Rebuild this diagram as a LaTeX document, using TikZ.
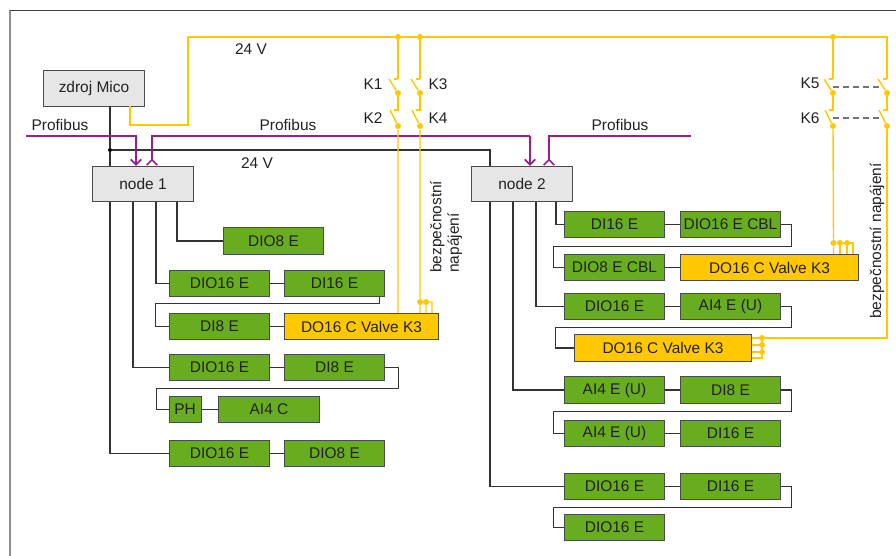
\documentclass[tikz,border=0pt]{standalone}
\usepackage{fontspec}
\setmainfont{Liberation Sans}
\usetikzlibrary{arrows.meta}
\definecolor{micoGreen}{HTML}{68AC20}
\definecolor{micoYellow}{HTML}{FFC800}
\definecolor{micoGrey}{HTML}{E6E6E6}
\definecolor{micoEdge}{HTML}{4A4A4A}
\definecolor{micoBus}{HTML}{9A1E8C}
\definecolor{micoText}{HTML}{222222}
\tikzset{
  gbox/.style={draw=micoEdge,fill=micoGreen,semithick,minimum width=75.5pt,
    minimum height=20pt,inner sep=0pt,text=micoText,font=\fontsize{11.6}{13}\selectfont},
  gsmall/.style={gbox,minimum width=24pt},
  valve/.style={gbox,fill=micoYellow},
  nodebox/.style={gbox,fill=micoGrey,minimum width=76pt,minimum height=26.5pt},
  cable/.style={draw=black!80,line width=.9pt},
  power/.style={draw=micoYellow,line width=1.05pt},
  bus/.style={draw=micoBus,line width=1.3pt},
  jdot/.style={circle,fill=micoYellow,inner sep=0pt,minimum size=4.5pt},
  bdot/.style={circle,fill=black,inner sep=0pt,minimum size=3pt},
  lbl/.style={text=micoText,font=\fontsize{11.6}{13}\selectfont,inner sep=0pt},
  coupling/.style={draw=black!55,line width=.9pt,dash pattern=on 4.5pt off 3pt}
}
\begin{document}
\begin{tikzpicture}[x=.75pt,y=-.75pt]
  \useasboundingbox (0,0) rectangle (896,556);
  \draw[black!45,line width=1.2pt] (10,556) coordinate (fa) -- (10,10) coordinate (fb);
  \draw[black!75,semithick] (fb) -- (896,10) coordinate (fc);

  % nodes of the left branch
  \node[nodebox] (mico) at (94,88.5) {zdroj Mico};
  \node[nodebox] (n1) at (143,184) {node 1};
  \node[gbox] (a1) at (273.5,241) {DIO8 E};
  \node[gbox] (b1) at (219.5,283.5) {DIO16 E};
  \node[gbox] (b2) at (334.5,283.5) {DI16 E};
  \node[gbox] (c1) at (219.5,326.5) {DI8 E};
  \node[valve,minimum width=116pt] (c2) at (361.5,326.5) {DO16 C Valve K3};
  \node[gbox] (d1) at (219.5,367.5) {DIO16 E};
  \node[gbox] (d2) at (334.5,367.5) {DI8 E};
  \node[gsmall] (e1) at (185,409.5) {PH};
  \node[gbox] (e2) at (269,409.5) {AI4 C};
  \node[gbox] (f1) at (219.5,453.5) {DIO16 E};
  \node[gbox] (f2) at (334.5,453.5) {DIO8 E};

  % nodes of the right branch
  \node[nodebox] (n2) at (522,184) {node 2};
  \node[gbox] (g1) at (614.5,224.5) {DI16 E};
  \node[gbox] (g2) at (730.5,224.5) {DIO16 E CBL};
  \node[gbox] (h1) at (614.5,267.5) {DIO8 E CBL};
  \node[valve,minimum width=134pt] (h2) at (769.5,267.5) {DO16 C Valve K3};
  \node[gbox] (i1) at (614.5,306.5) {DIO16 E};
  \node[gbox] (i2) at (730.5,306.5) {AI4 E (U)};
  \node[valve,minimum width=133pt] (j1) at (663,348) {DO16 C Valve K3};
  \node[gbox] (k1) at (614.5,390) {AI4 E (U)};
  \node[gbox] (k2) at (730.5,390) {DI8 E};
  \node[gbox] (l1) at (614.5,433.5) {AI4 E (U)};
  \node[gbox] (l2) at (730.5,433.5) {DI16 E};
  \node[gbox] (m1) at (614.5,486.5) {DIO16 E};
  \node[gbox] (m2) at (730.5,486.5) {DI16 E};
  \node[gbox] (o1) at (614.5,527.5) {DIO16 E};

  % 24 V supply of the nodes
  \node[bdot] (tap) at (110,150) {};
  \draw[cable] (110,106) coordinate (ms) -- (tap) -- (110,166) coordinate (ns);
  \draw[cable] (tap) -| ([xshift=-24pt]n2.north);

  % bus cables, left
  \draw[cable] ([xshift=-24.75pt]n1.south) |- (f1.west);
  \draw[cable] ([xshift=-7.5pt]n1.south) |- (d1.west);
  \draw[cable] ([xshift=9.75pt]n1.south) |- (b1.west);
  \draw[cable] ([xshift=25.5pt]n1.south) |- (a1.west);
  \draw[cable] (b1) -- (b2);
  \draw[cable] (d1) -- (d2);
  \draw[cable] (e1) -- (e2);
  \draw[cable] (c1) -- (c2);
  \draw[cable] (f1) -- (f2);
  \draw[cable] ([xshift=33.75pt]b2.south) -- ++(0,-4.5pt) -- ++(-168pt,0) |- (c1.west);
  \draw[cable] (d2.east) -- ++(9.75pt,0) |- ++(-181.5pt,-16pt) |- (e1.west);

  % bus cables, right
  \draw[cable] ([xshift=-24pt]n2.south) |- (m1.west);
  \draw[cable] ([xshift=-6.75pt]n2.south) |- (k1.west);
  \draw[cable] ([xshift=10.5pt]n2.south) |- (i1.west);
  \draw[cable] ([xshift=25.5pt]n2.south) |- (g1.west);
  \draw[cable] (g1) -- (g2);
  \draw[cable] (h1) -- (h2);
  \draw[cable] (i1) -- (i2);
  \draw[cable] (k1) -- (k2);
  \draw[cable] (l1) -- (l2);
  \draw[cable] (m1) -- (m2);
  \draw[cable] (g2.east) -- ++(7.5pt,0) |- ++(-178.5pt,-16.5pt) |- (h1.west);
  \draw[cable] (i2.east) -- ++(7.5pt,0) |- ++(-177pt,-15.75pt) |- (j1.west);
  \draw[cable] (k2.east) -- ++(7.5pt,0) |- ++(-178.5pt,-16pt) |- (l1.west);
  \draw[cable] (m2.east) -- ++(7.5pt,0) |- ++(-178.5pt,-15.75pt) |- (o1.west);

  % Profibus
  \coordinate (pa) at (26,136);
  \coordinate (pb) at (691,136);
  \coordinate (pc) at (549,136);
  \coordinate (pd) at (530,136);
  \coordinate (pe) at (152,136);
  \draw[bus,-{Straight Barb[length=4pt,width=8pt]}] (pa) -| ([xshift=-5.25pt]n1.north);
  \draw[bus,-{Straight Barb[reversed,length=4pt,width=8pt]}] (pd) -- (pe) -- ([xshift=6.75pt]n1.north);
  \draw[bus,-{Straight Barb[length=4pt,width=8pt]}] (pd) -- ([xshift=6pt]n2.north);
  \draw[bus,-{Straight Barb[reversed,length=4pt,width=8pt]}] (pb) -- (pc) -- ([xshift=20.25pt]n2.north);

  % 24 V from the source, contacts K1--K6
  \node[jdot] (t1) at (398,37) {};
  \node[jdot] (t2) at (420,37) {};
  \node[jdot] (t3) at (833,37) {};
  \foreach \nm/\xx in {u/398,v/420,w/833,z/887}{
    \node[jdot] (\nm1) at (\xx,93) {};
    \node[jdot] (\nm2) at (\xx,126) {};
    \draw[power] (\nm1) -- (\xx,110) -- (\xx-4,110);
    \draw[power] (\xx-9,79) -- (\nm1);
    \draw[power] (\xx-8,110) -- (\nm2);
    \draw[power] (\xx,79) -- (\xx-4,79);
  }
  \draw[power] (130,106) coordinate (mo) -- (130,125) -- (188,125) -- (188,37)
    -- (t1) -- (t2) -- (t3) -- (887,37) -- (887,79);
  \draw[power] (t1) -- (398,79);
  \draw[power] (t2) -- (420,79);
  \draw[power] (t3) -- (833,79);
  \draw[coupling] (w1) ++(0,-6) -- (880,87);
  \draw[coupling] (w2) ++(0,-8) -- (880,118);

  % safety supply to the valve terminals
  \draw[power] (u2) -- ([xshift=27.4pt]c2.north);
  \node[jdot] (c3) at (420,302) {};
  \node[jdot] (c4) at (426,302) {};
  \draw[power] (v2) -- (c3) -- ([xshift=43.9pt]c2.north);
  \draw[power] (c3) -- (c4) -- (432,302) -- ([xshift=52.9pt]c2.north);
  \draw[power] (c4) -- ([xshift=48.4pt]c2.north);

  \node[jdot] (h3) at (833.5,243) {};
  \node[jdot] (h4) at (840,243) {};
  \node[jdot] (h5) at (847,243) {};
  \draw[power] (w2) -- (h3) -- (833.5,254);
  \draw[power] (h3) -- (h4) -- (h5) -- (853,243) -- (853,254);
  \draw[power] (h4) -- (840,254);
  \draw[power] (h5) -- (847,254);

  \node[jdot] (j3) at (762,338) {};
  \node[jdot] (j4) at (762,345) {};
  \node[jdot] (j5) at (762,352) {};
  \draw[power] (z2) -- (887,338) -- (j3) -- (752,338);
  \draw[power] (j3) -- (j4) -- (j5) -- (762,358) -- (752,358);
  \draw[power] (j4) -- (752,345);
  \draw[power] (j5) -- (752,352);

  % labels
  \node[lbl] (lp1) at (60,125) {Profibus};
  \node[lbl] (lp2) at (288,125) {Profibus};
  \node[lbl] (lp3) at (620,125) {Profibus};
  \node[lbl] (lv1) at (251,49) {24 V};
  \node[lbl] (lv2) at (257,163) {24 V};
  \node[lbl] (lk1) at (373,84) {K1};
  \node[lbl] (lk2) at (373,118) {K2};
  \node[lbl] (lk3) at (438,84) {K3};
  \node[lbl] (lk4) at (438,118) {K4};
  \node[lbl] (lk5) at (810,83) {K5};
  \node[lbl] (lk6) at (810,118) {K6};
  \node[lbl,rotate=90,align=left,anchor=west] (ls1) at (446,273) {bezpečnostní\\napájení};
  \node[lbl,rotate=90,anchor=west] (ls2) at (877,319) {bezpečnostní napájení};
\end{tikzpicture}
\end{document}
